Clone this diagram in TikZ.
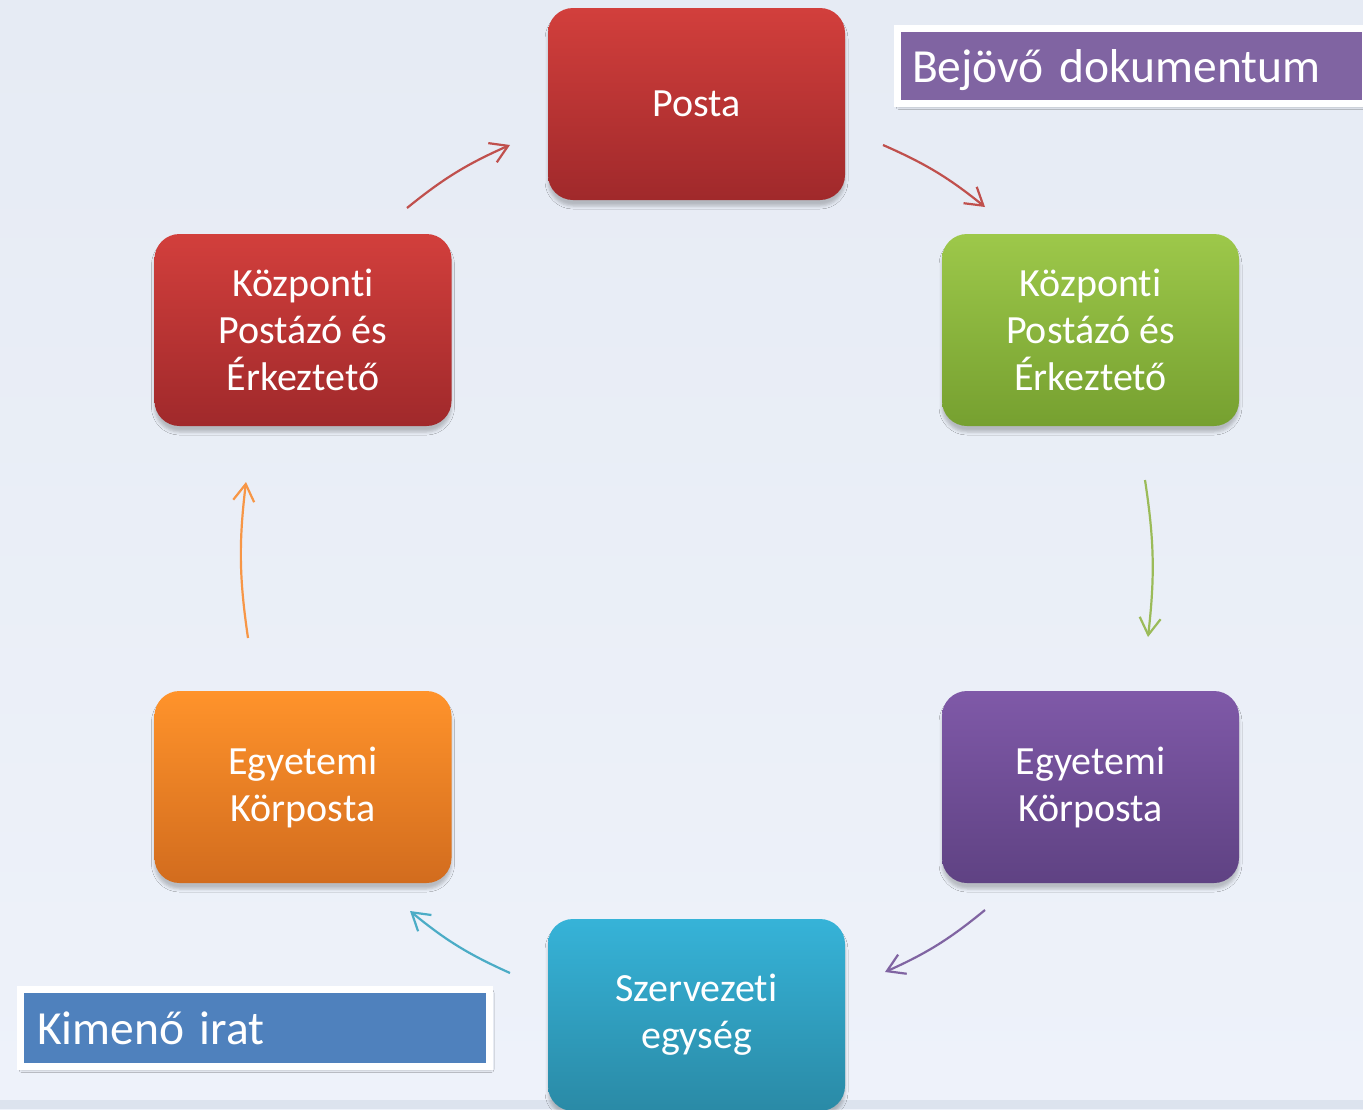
\documentclass[tikz,border=0pt]{standalone}
\usepackage{fontspec}
\setmainfont{Carlito}[Ligatures=NoCommon,Contextuals=NoAlternate,RawFeature={-liga;-clig;-dlig;-calt}]
\usetikzlibrary{arrows.meta,shadows.blur,calc}
\definecolor{bgtop}{HTML}{E6EBF4}
\definecolor{bgbot}{HTML}{EEF2FA}
\definecolor{strip}{HTML}{DCE3EE}
\definecolor{redT}{HTML}{D23F3C}
\definecolor{redB}{HTML}{A0292B}
\definecolor{grnT}{HTML}{9DC84A}
\definecolor{grnB}{HTML}{76A030}
\definecolor{purT}{HTML}{7F59A8}
\definecolor{purB}{HTML}{5F4283}
\definecolor{oraT}{HTML}{FF932B}
\definecolor{oraB}{HTML}{D26C1E}
\definecolor{teaT}{HTML}{36B3D8}
\definecolor{teaB}{HTML}{2A8AA6}
\definecolor{aRed}{HTML}{C0504D}
\definecolor{aGrn}{HTML}{9BBB59}
\definecolor{aPur}{HTML}{8064A2}
\definecolor{aTea}{HTML}{4BACC6}
\definecolor{aOra}{HTML}{F79646}
\definecolor{lblPur}{HTML}{8064A2}
\definecolor{lblBlu}{HTML}{4F81BD}
\tikzset{
  stagebox/.style={rounded corners=25pt, minimum width=297pt, minimum height=192pt,
    inner sep=0pt, text=white, align=center, font=\fontsize{40}{47}\selectfont,
    blur shadow={shadow xshift=0pt, shadow yshift=-6pt, shadow blur radius=3pt, shadow opacity=22}},
  cyc/.style={line width=2.2pt, -{Straight Barb[length=17pt,width=21pt,line width=2.2pt]}, bend left=7.6},
  tagbox/.style={draw=white, line width=7pt, text=white, align=left,
    font=\fontsize{47.5}{57}\selectfont, text height=38pt, text depth=6pt,
    blur shadow={shadow xshift=2pt, shadow yshift=-3pt, shadow blur radius=3pt, shadow opacity=35}}
}
\begin{document}
\begin{tikzpicture}[x=1pt,y=-1pt]
\useasboundingbox (0,0) rectangle (1363,1109);
\shade[top color=bgtop, bottom color=bgbot] (0,0) rectangle (1363,1109);
\fill[strip] (0,1100) rectangle (1363,1109);
\begin{scope}
\clip (0,0) rectangle (1363,1109);
\node[stagebox, top color=redT, bottom color=redB] (posta) at (696.5,104) {Posta};
\node[stagebox, top color=redT, bottom color=redB] (kl) at (303,330) {Központi\\Postázó és\\Érkeztető};
\node[stagebox, top color=grnT, bottom color=grnB] (kr) at (1090.5,330) {Központi\\Postázó és\\Érkeztető};
\node[stagebox, top color=purT, bottom color=purB] (er) at (1090.5,787) {Egyetemi\\Körposta};
\node[stagebox, top color=oraT, bottom color=oraB] (el) at (303,787) {Egyetemi\\Körposta};
\node[stagebox, top color=teaT, bottom color=teaB] (sz) at (696.5,1015) {Szervezeti\\egység};

\node[tagbox, fill=lblPur, minimum height=75pt, inner xsep=15pt, text width=438pt, anchor=west] (bejovo) at (893.5,66) {Bejövő dokumentum};
\node[tagbox, fill=lblBlu, minimum height=77pt, inner xsep=17pt, text width=435pt, anchor=west] (kimeno) at (16.5,1028) {Kimenő irat};
\end{scope}

\coordinate (a1s) at (407,208); \coordinate (a1e) at (510,145);
\coordinate (a2s) at (883,145); \coordinate (a2e) at (985,207);
\coordinate (a3s) at (1145,480); \coordinate (a3e) at (1148,637);
\coordinate (a4s) at (985,910); \coordinate (a4e) at (885,972);
\coordinate (a5s) at (510,973); \coordinate (a5e) at (410,911);
\coordinate (a6s) at (248,638); \coordinate (a6e) at (246,482);
\draw[cyc, aRed] (a1s) to (a1e);
\draw[cyc, aRed] (a2s) to (a2e);
\draw[cyc, aGrn] (a3s) to (a3e);
\draw[cyc, aPur] (a4s) to (a4e);
\draw[cyc, aTea] (a5s) to (a5e);
\draw[cyc, aOra] (a6s) to (a6e);
\end{tikzpicture}
\end{document}
